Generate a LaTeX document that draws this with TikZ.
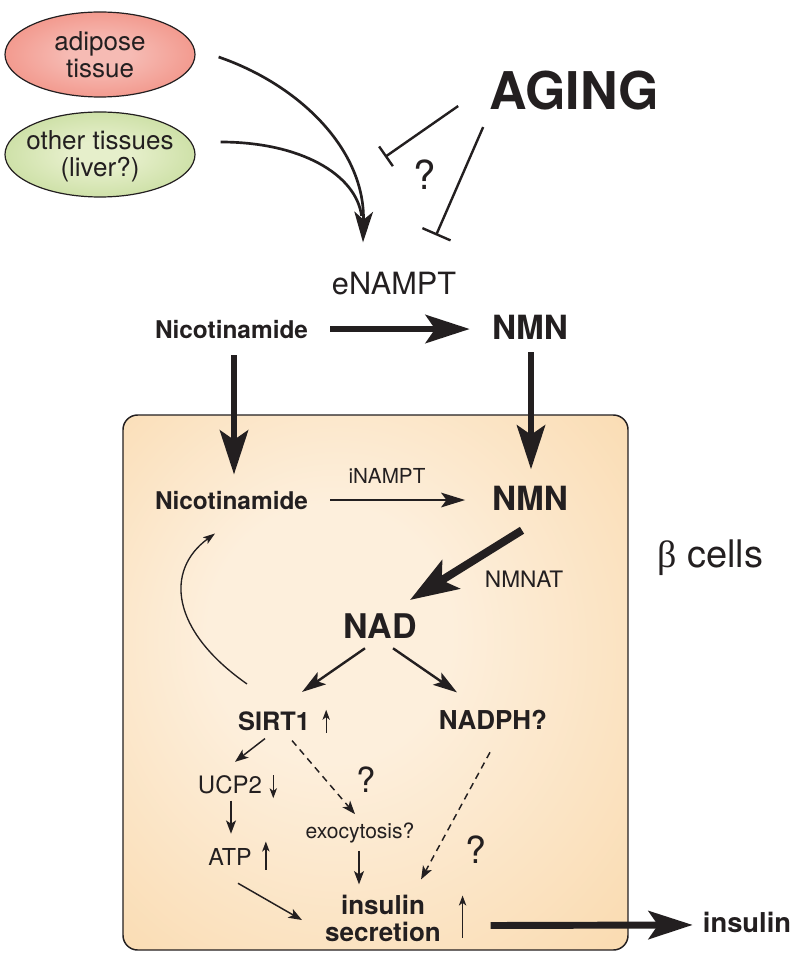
\documentclass[tikz,border=0pt]{standalone}
\usepackage{fontspec}
\setmainfont{TeX Gyre Heros}
\newfontfamily\grk{Liberation Serif}
\usetikzlibrary{arrows.meta,shapes.geometric,calc}
\definecolor{ink}{HTML}{231F20}
\definecolor{boxin}{HTML}{FDEFDC}
\definecolor{boxout}{HTML}{F8D19B}
\definecolor{redin}{HTML}{F6BBB4}
\definecolor{redout}{HTML}{EF7A6A}
\definecolor{grnin}{HTML}{E6EFCB}
\definecolor{grnout}{HTML}{B7D386}
\pgfdeclareradialshading{cellshade}{\pgfpoint{-6bp}{6bp}}{color(0bp)=(boxin); color(12bp)=(boxin); color(50bp)=(boxout)}
\pgfdeclareradialshading{ellred}{\pgfpoint{0bp}{0bp}}{color(0bp)=(redin); color(8bp)=(redin); color(42bp)=(redout); color(50bp)=(redout)}
\pgfdeclareradialshading{ellgrn}{\pgfpoint{0bp}{0bp}}{color(0bp)=(grnin); color(8bp)=(grnin); color(42bp)=(grnout); color(50bp)=(grnout)}
\begin{document}
\begin{tikzpicture}[x=0.75pt,y=-0.75pt,
  txt/.style={inner sep=0pt, anchor=base, text=ink},
  conn/.style={draw=ink, line cap=butt},
  bigarr/.style={conn, line width=5.2pt, -{Stealth[length=33pt,width=21pt,inset=7pt]}},
  nadarr/.style={conn, line width=6pt, -{Stealth[length=36pt,width=25pt,inset=8pt]}},
  curvarr/.style={conn, line width=2pt, -{Stealth[length=23pt,width=14pt,inset=6pt]}},
  inhib/.style={conn, line width=1.8pt},
  midarr/.style={conn, line width=1.8pt, -{Stealth[length=18pt,width=11pt,inset=4pt]}},
  smallarr/.style={conn, line width=1.1pt, -{Stealth[length=10pt,width=7.5pt,inset=2.5pt]}},
  tinyarr/.style={conn, line width=1pt, -{Stealth[length=7.5pt,width=5.5pt,inset=2pt]}},
  dasharr/.style={smallarr, dash pattern=on 5pt off 3.8pt},
  tissue/.style={ellipse, draw=ink, line width=0.9pt, shade, minimum width=142.5pt, minimum height=63.75pt, inner sep=0pt},
  tissuetext/.style={align=center, text=ink, inner sep=0pt, font=\fontsize{19.5}{20}\selectfont}
]
\useasboundingbox (0,0) rectangle (800,962);
\fill[white] (0,0) rectangle (800,962);

% tissues
\node[tissue, shading=ellred, label={[tissuetext]center:adipose\\tissue}] (adipose) at (100,54.5) {};
\node[tissue, shading=ellgrn, label={[tissuetext, yshift=-1.5pt]center:other tissues\\(liver?)}] (other) at (100,154.5) {};

% top labels
\node[txt, font=\fontsize{39}{40}\selectfont\bfseries] (aging) at (574,110) {AGING};
\node[txt, font=\fontsize{30}{32}\selectfont] (q1) at (425,190) {?};
\node[txt, font=\fontsize{23}{25}\selectfont] (enampt) at (394,295) {eNAMPT};
\node[txt, font=\fontsize{18.3}{20}\selectfont\bfseries] (nic1) at (231.5,338) {Nicotinamide};
\node[txt, font=\fontsize{25}{27}\selectfont\bfseries] (nmn1) at (530,339) {NMN};

% beta cell box
\node[draw=ink, line width=1.1pt, rounded corners=11pt, shade, shading=cellshade, minimum width=378.75pt, minimum height=401.25pt, inner sep=0pt] (cell) at (375.5,682.5) {};

% inside labels
\node[txt, font=\fontsize{18.3}{20}\selectfont\bfseries] (nic2) at (231.5,509) {Nicotinamide};
\node[txt, font=\fontsize{25}{27}\selectfont\bfseries] (nmn2) at (530,510) {NMN};
\node[txt, font=\fontsize{15.5}{17}\selectfont] (inampt) at (387,483) {iNAMPT};
\node[txt, font=\fontsize{17}{19}\selectfont] (nmnat) at (524,587) {NMNAT};
\node[txt, font=\fontsize{25.5}{27}\selectfont\bfseries] (nad) at (380,638) {NAD};
\node[txt, font=\fontsize{19}{21}\selectfont\bfseries] (sirt) at (274,730) {SIRT1};
\node[txt, font=\fontsize{19.5}{21}\selectfont\bfseries] (nadph) at (493,729) {NADPH?};
\node[txt, font=\fontsize{18}{20}\selectfont] (ucp) at (230,793) {UCP2};
\node[txt, font=\fontsize{17.5}{19}\selectfont] (atp) at (230,865) {ATP};
\node[txt, font=\fontsize{26}{28}\selectfont] (q2) at (366,792) {?};
\node[txt, font=\fontsize{15.8}{17}\selectfont] (exo) at (360,838) {exocytosis?};
\node[txt, font=\fontsize{28}{30}\selectfont] (q3) at (476,863) {?};
\node[inner sep=0pt, text=ink, align=center, font=\fontsize{19.5}{20.3}\selectfont\bfseries] (ins) at (383,918) {insulin\\secretion};
\node[txt, font=\fontsize{20.5}{22}\selectfont\bfseries] (insout) at (747,932) {insulin};
\node[txt, anchor=base west, font=\fontsize{28.5}{30}\selectfont] (beta) at (657,567) {{\grk β} cells};

% tissue curves
\draw[curvarr] ($(adipose.east)+(23,2.5)$) .. controls (300,85) and (365,150) .. ($(enampt.north)+(-31,-30)$);
\draw[conn, line width=2pt] ($(other.east)+(25,-12.5)$) .. controls (300,142) and (356,174) .. (361.6,216);

% aging inhibitions
\coordinate (ib1) at (385,157);
\draw[inhib, -{Bar[width=18pt]}] ($(aging.west)+(-31,15)$) -- (ib1);
\draw[inhib, -{Bar[width=23pt]}] ($(aging.west)+(-6,36)$) -- ($(enampt.north)+(42,-37)$);

% big arrows
\draw[bigarr] ([xshift=16.5pt]nic1.east) -- ([xshift=-16.5pt]nic1.east -| nmn1.west);
\draw[bigarr] ($(nic1.south)+(2.5,17)$) -- ($(nic2.north)+(2.5,-16)$);
\draw[bigarr] ($(nmn1.south)+(1,13)$) -- ($(nmn2.north)+(1,-16)$);
\draw[nadarr] ($(nmn2.south)+(-8,20)$) -- ($(nad.north)+(30,-13)$);
\draw[bigarr] ($(ins.east)+(49.5,7.5)$) -- ($(insout.west)+(-10,3)$);

% medium arrows
\draw[midarr, line width=1.7pt] ([xshift=16.5pt]nic2.east) -- ([xshift=-20pt]nic2.east -| nmn2.west);
\draw[midarr] ($(nad.south)+(-15,10)$) -- ($(sirt.north)+(28,-19)$);
\draw[midarr] ($(nad.south)+(13,10)$) -- ($(nadph.north)+(-36,-17)$);

% feedback curve
\draw[conn, line width=1pt, -{Stealth[length=9pt,width=6pt,inset=2pt]}] ($(sirt.north)+(-27,-27)$) .. controls (170,630) and (165,570) .. ($(nic2.south)+(-16.5,24)$);

% small arrows
\draw[smallarr] ($(sirt.south)+(-9,8)$) -- ($(ucp.north)+(5,-13)$);
\draw[smallarr] ($(ucp.south)+(1,7)$) -- ($(atp.north)+(1,-14)$);
\draw[smallarr] ($(exo.south)+(-1,8)$) -- ($(exo.south |- ins.north)+(-1,-10)$);
\draw[smallarr] ($(atp.south)+(8,18)$) -- ($(ins.west)+(-23,2)$);
\draw[dasharr] ($(sirt.south)+(18,10)$) -- ($(exo.north)+(-5,-8)$);
\draw[dasharr] ($(nadph.south)+(-3,23)$) -- ($(ins.north east)+(-20,-15)$);

% tiny up/down arrows
\draw[tinyarr] ($(sirt.east)+(16,12)$) -- ($(sirt.east)+(16,-11)$);
\draw[tinyarr] ($(ucp.east)+(11,-9)$) -- ($(ucp.east)+(11,14)$);
\draw[tinyarr] ($(atp.east)+(14,13)$) -- ($(atp.east)+(14,-15)$);
\draw[tinyarr] ($(ins.east)+(21.5,19.5)$) -- ($(ins.east)+(21.5,-22.5)$);
\end{tikzpicture}
\end{document}
